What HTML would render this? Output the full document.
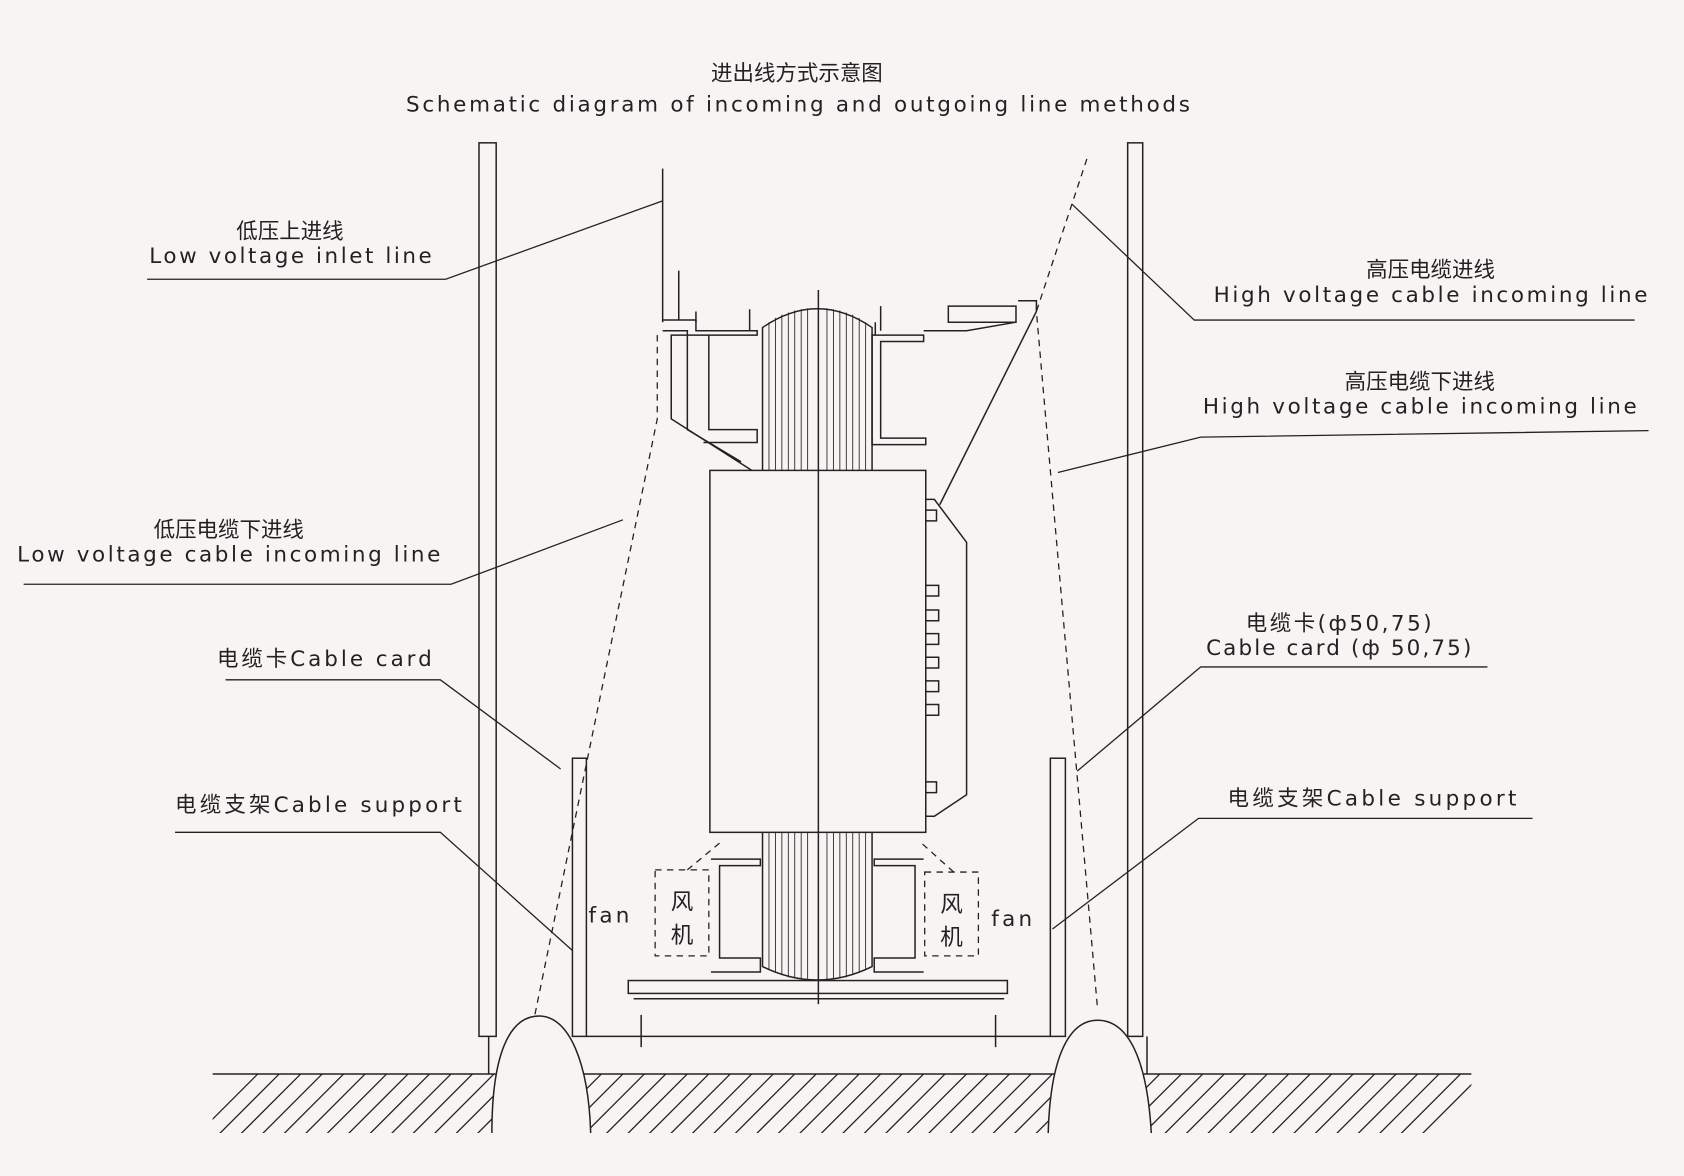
<!DOCTYPE html>
<html><head><meta charset="utf-8"><style>
html,body{margin:0;padding:0;background:#f9f4f4;}
svg{display:block}
text{font-family:"DejaVu Sans","Noto Sans CJK SC",sans-serif;fill:#222;}
</style></head><body>
<svg width="1684" height="1176" viewBox="0 0 1568 1095" xmlns="http://www.w3.org/2000/svg">
<defs>
<clipPath id="gc"><rect x="198" y="1000" width="1172" height="55"/></clipPath>
</defs>
<rect width="1568" height="1095" fill="#f9f4f4"/>
<text x="742" y="75" font-size="20" text-anchor="middle">进出线方式示意图</text>
<text x="378" y="104" font-size="20" textLength="730" lengthAdjust="spacing">Schematic diagram of incoming and outgoing line methods</text>
<g stroke="#222" stroke-width="1.4" fill="none">
<rect x="446" y="133" width="16" height="832"/>
<rect x="1050" y="133" width="14" height="832"/>
<line x1="455" y1="965" x2="455" y2="1000"/>
<line x1="1068" y1="965" x2="1068" y2="1000"/>
<line x1="198" y1="1000" x2="1370" y2="1000"/>
<g clip-path="url(#gc)" stroke-width="1.2">
<path d="M180 1060L240 1000M200 1060L260 1000M220 1060L280 1000M240 1060L300 1000M260 1060L320 1000M280 1060L340 1000M300 1060L360 1000M320 1060L380 1000M340 1060L400 1000M360 1060L420 1000M380 1060L440 1000M400 1060L460 1000M420 1060L480 1000M440 1060L500 1000M460 1060L520 1000M480 1060L540 1000M500 1060L560 1000M520 1060L580 1000M540 1060L600 1000M560 1060L620 1000M580 1060L640 1000M600 1060L660 1000M620 1060L680 1000M640 1060L700 1000M660 1060L720 1000M680 1060L740 1000M700 1060L760 1000M720 1060L780 1000M740 1060L800 1000M760 1060L820 1000M780 1060L840 1000M800 1060L860 1000M820 1060L880 1000M840 1060L900 1000M860 1060L920 1000M880 1060L940 1000M900 1060L960 1000M920 1060L980 1000M940 1060L1000 1000M960 1060L1020 1000M980 1060L1040 1000M1000 1060L1060 1000M1020 1060L1080 1000M1040 1060L1100 1000M1060 1060L1120 1000M1080 1060L1140 1000M1100 1060L1160 1000M1120 1060L1180 1000M1140 1060L1200 1000M1160 1060L1220 1000M1180 1060L1240 1000M1200 1060L1260 1000M1220 1060L1280 1000M1240 1060L1300 1000M1260 1060L1320 1000M1280 1060L1340 1000M1300 1060L1360 1000M1320 1060L1380 1000"/>
</g>
<path d="M458 1055 C458 980 475 946 502 946 C530 946 548 990 550 1055" fill="#f9f4f4"/>
<path d="M976 1055 C978 985 995 950 1022 950 C1050 950 1068 985 1072 1055" fill="#f9f4f4"/>
<line x1="546" y1="965" x2="978" y2="965"/>
<rect x="585" y="913" width="353" height="12"/>
<line x1="590" y1="930" x2="935" y2="930"/>
<line x1="597" y1="945" x2="597" y2="975"/>
<line x1="927" y1="945" x2="927" y2="975"/>
<rect x="533" y="706" width="13" height="259"/>
<rect x="978" y="706" width="14" height="259"/>
<path d="M710 438 L710 305 Q761 270 812 305 L812 438"/>
<path d="M710 775 L710 900 Q761 925 812 900 L812 775"/>
<g stroke-width="0.8">
<path d="M716 300V438M722 296V438M728 293V438M734 291V438M740 289V438M746 288V438M752 287V438M770 287V438M776 288V438M782 289V438M788 291V438M794 293V438M800 296V438M806 300V438"/>
<path d="M716 775V903M722 775V906M728 775V908M734 775V910M740 775V911M746 775V912M752 775V912M770 775V912M776 775V912M782 775V911M788 775V910M794 775V908M800 775V906M806 775V903"/>
</g>
<rect x="661" y="438" width="201" height="337" fill="#f9f4f4"/>
<line x1="762" y1="270" x2="762" y2="935"/>
<path d="M617 298H648V308H705V312H625V390L700 438"/>
<path d="M617 308H640V400L690 430"/>
<path d="M660 312V400H705V412H655"/>
<path d="M632 252V298M648 290V300M698 288V308"/>
<path d="M812 312H860V318H820V408H862V414H812Z"/>
<path d="M815 300V312M820 285V308"/>
<path d="M883 285H946V300H883Z"/>
<path d="M860 308H900L946 300"/>
<path d="M662 800H708V806H670V892H708V905H662"/>
<path d="M860 800H814V806H852V892H814V905H860"/>
<path d="M862 465H870L900 505V740L870 760H862"/>
<path d="M862 475h10v10h-10M862 545h12v10h-12M862 568h12v10h-12M862 590h12v10h-12M862 612h12v10h-12M862 634h12v10h-12M862 656h12v10h-12M862 728h10v10h-10"/>
<line x1="617" y1="157" x2="617" y2="300"/>
<path d="M948 280H965L965 290 L875 470"/>
</g>
<g stroke="#222" stroke-width="1.2" fill="none" stroke-dasharray="6,5">
<path d="M612 312V390L498 945"/>
<path d="M1012 148L965 290L1022 940"/>
<rect x="610" y="810" width="50" height="80"/>
<rect x="861" y="812" width="50" height="78"/>
<path d="M640 810L670 785M888 812L858 785"/>
</g>
<g font-size="21" text-anchor="middle">
<text x="635" y="847">风</text><text x="635" y="878">机</text>
<text x="886" y="849">风</text><text x="886" y="880">机</text>
</g>
<g font-size="20">
<text x="548" y="859" textLength="38" lengthAdjust="spacing">fan</text>
<text x="923" y="862" textLength="38" lengthAdjust="spacing">fan</text>
</g>
<g stroke="#222" stroke-width="1.2" fill="none">
<path d="M137 260H415L617 187"/>
<path d="M1522 298H1112L998 190"/>
<path d="M1535 401L1118 407L985 440"/>
<path d="M22 544H420L580 484"/>
<path d="M210 633H410L522 716"/>
<path d="M163 775H410L533 885"/>
<path d="M1385 621H1118L1003 718"/>
<path d="M1427 762H1116L980 865"/>
</g>
<g font-size="20" text-anchor="middle">
<text x="270" y="222">低压上进线</text>
<text x="1332" y="258">高压电缆进线</text>
<text x="1322" y="362">高压电缆下进线</text>
<text x="213" y="500">低压电缆下进线</text>
</g>
<g font-size="20">
<text x="139" y="245" textLength="263" lengthAdjust="spacing">Low voltage inlet line</text>
<text x="1130" y="281" textLength="404" lengthAdjust="spacing">High voltage cable incoming line</text>
<text x="1120" y="385" textLength="404" lengthAdjust="spacing">High voltage cable incoming line</text>
<text x="16" y="523" textLength="394" lengthAdjust="spacing">Low voltage cable incoming line</text>
<text x="202" y="620" textLength="200" lengthAdjust="spacing">电缆卡Cable card</text>
<text x="163" y="756" textLength="267" lengthAdjust="spacing">电缆支架Cable support</text>
<text x="1160" y="587" textLength="173" lengthAdjust="spacing">电缆卡(ф50,75)</text>
<text x="1123" y="610" textLength="247" lengthAdjust="spacing">Cable card (ф 50,75)</text>
<text x="1143" y="750" textLength="269" lengthAdjust="spacing">电缆支架Cable support</text>
</g>
</svg>
</body></html>
